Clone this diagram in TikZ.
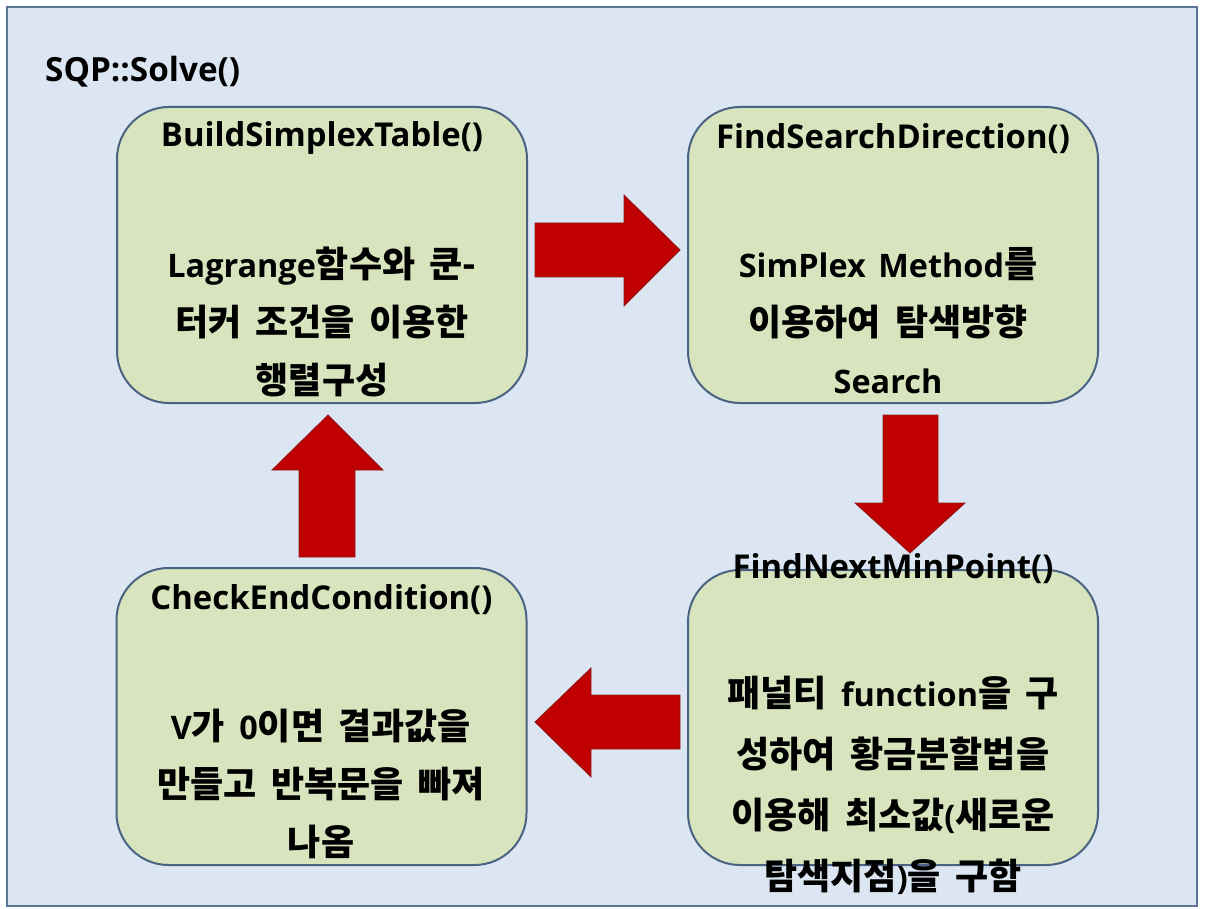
\documentclass[tikz,border=0pt]{standalone}
\usepackage{fontspec}
\newfontfamily\krfont{Noto Sans CJK KR}[WordSpace=1.75]
\newfontfamily\latfont{Open Sans}[Scale=0.9,WordSpace=1.5]
\newcommand\La[1]{{\latfont\bfseries #1}}
\definecolor{framefill}{HTML}{DCE6F2}
\definecolor{framedraw}{HTML}{5B7599}
\definecolor{boxfill}{HTML}{D7E4BD}
\definecolor{boxdraw}{HTML}{4A6382}
\definecolor{arrowfill}{HTML}{C00000}
\definecolor{arrowdraw}{HTML}{8E1A1A}
\tikzset{
  stepbox/.style={draw=boxdraw, line width=2pt, fill=boxfill, rounded corners=52pt, minimum width=410pt, inner sep=0pt},
  titletext/.style={font=\krfont\bfseries\fontsize{36.5}{40}\selectfont, text=black, inner sep=0pt},
  bodytext/.style={font=\krfont\bfseries\fontsize{36}{58}\selectfont, text=black, align=center, inner sep=0pt},
  blockarrow/.style={fill=arrowfill, draw=arrowdraw, line width=0.8pt, line join=miter}
}
\begin{document}
\begin{tikzpicture}[x=1pt,y=-1pt]
\useasboundingbox (0,0) rectangle (1205,909);
\fill[white] (0,0) rectangle (1205,909);
\node[draw=framedraw, fill=framefill, line width=2.5pt, minimum width=1190pt, minimum height=899pt, inner sep=0pt] (frame) at (602,456.5) {};
\node[titletext, anchor=west, font=\krfont\bfseries\fontsize{37}{40}\selectfont] (ttl) at (45,72) {\La{SQP::Solve()}};
% boxes
\node[stepbox, minimum height=296pt] (b1) at (322,255) {};
\node[stepbox, minimum height=296pt] (b2) at (893,255) {};
\node[stepbox, minimum height=297pt] (b3) at (321.5,716.5) {};
\node[stepbox, minimum height=295pt] (b4) at (893,717.5) {};
% titles
\node[titletext] (t1) at (322,138) {\La{BuildSimplexTable()}};
\node[titletext] (t2) at (893,139) {\La{FindSearchDirection()}};
\node[titletext] (t3) at (321.5,600) {\La{CheckEndCondition()}};
\node[titletext] (t4) at (893,569) {\La{FindNextMinPoint()}};
% bodies
\node[bodytext] (d1) at (322,322) {\La{Lagrange}함수와 쿤-\\터커 조건을 이용한\\행렬구성};
\node[bodytext] (d2) at (888,321) {\La{SimPlex Method}를\\이용하여 탐색방향\\\La{Search}};
\node[bodytext] (d3) at (321,784) {\La{V}가 \La{0}이면 결과값을\\만들고 반복문을 빠져\\나옴};
\node[bodytext, font=\krfont\bfseries\fontsize{36}{61}\selectfont] (d4) at (893,785) {패널티 \La{function}을 구\\성하여 황금분할법을\\이용해 최소값\La{(}새로운\\탐색지점\La{)}을 구함};
% block arrows
\draw[blockarrow] (535,223) -- (624,223) -- (624,195) -- (680,250) -- (624,306) -- (624,277) -- (535,277) -- cycle;
\draw[blockarrow] (883,415) -- (938,415) -- (938,503) -- (965,503) -- (910,553) -- (855,503) -- (883,503) -- cycle;
\draw[blockarrow] (299,557) -- (299,470) -- (272,470) -- (328,415) -- (383,470) -- (355,470) -- (355,557) -- cycle;
\draw[blockarrow] (680,695) -- (591,695) -- (591,668) -- (535,722) -- (591,777) -- (591,749) -- (680,749) -- cycle;
\end{tikzpicture}
\end{document}
